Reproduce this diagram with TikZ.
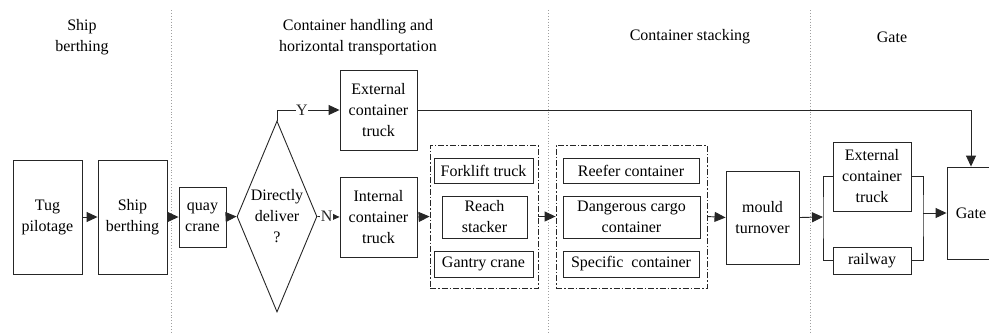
\documentclass[tikz,border=0pt]{standalone}
\usepackage{fontspec}
\setmainfont{Liberation Serif}
\usetikzlibrary{arrows.meta,shapes.geometric}

\begin{document}
\begin{tikzpicture}[x=1pt, y=-1pt,
	every node/.style={font=\fontsize{16}{21}\selectfont},
	stage/.style={draw=black!85, line width=0.9pt, align=center, inner sep=0pt},
	decision/.style={draw=black!85, line width=0.9pt, shape=diamond, aspect=0.42, align=center, inner sep=0pt},
	group/.style={draw=black!85, dash pattern=on 6pt off 2pt on 1.5pt off 2pt, line width=0.8pt, inner sep=0pt},
	flow/.style={-{Triangle[length=11pt, width=10pt]}, line width=0.9pt, color=black!85},
	link/.style={line width=0.9pt, color=black!85},
	divider/.style={dotted, line width=0.9pt, color=gray!75},
	tag/.style={fill=white, inner sep=0.5pt}]

	\useasboundingbox (0,0) rectangle (989,333);

	\draw[divider] (171,10) -- (171,333);
	\draw[divider] (548,10) -- (548,333);
	\draw[divider] (810,10) -- (810,333);

	\node[align=center](berthHead) at (82,37){Ship\\berthing};
	\node[align=center](handleHead) at (358,37){Container handling and\\horizontal transportation};
	\node(stackHead) at (690,37){Container stacking};
	\node(gateHead) at (892,37){Gate};

	\node[stage, minimum width=69pt, minimum height=114pt](tug) at (47.5,217){Tug\\pilotage};
	\node[stage, minimum width=69pt, minimum height=114pt](berth) at (132.5,217){Ship\\berthing};
	\node[stage, minimum width=47pt, minimum height=60pt](quay) at (202.5,217){quay\\crane};
	\node[decision, minimum width=80pt, minimum height=191pt](deliver) at (277,216.5){Directly\\deliver\\?};
	\node[stage, minimum width=77pt, minimum height=80pt](extTruck) at (378.5,110){External\\container\\truck};
	\node[stage, minimum width=77pt, minimum height=80pt](intTruck) at (378.5,217){Internal\\container\\truck};

	\node[group, minimum width=108pt, minimum height=143pt](handleBox) at (484,216.5){};
	\node[stage, minimum width=99pt, minimum height=25pt](forklift) at (483.5,170.5){Forklift truck};
	\node[stage, minimum width=85pt, minimum height=42pt](reach) at (484.5,217){Reach\\stacker};
	\node[stage, minimum width=99pt, minimum height=26pt](gantry) at (483.5,264){Gantry crane};

	\node[group, minimum width=151pt, minimum height=143pt](stackBox) at (631.5,216.5){};
	\node[stage, minimum width=136pt, minimum height=25pt](reefer) at (631,170.5){Reefer container};
	\node[stage, minimum width=137pt, minimum height=42pt](danger) at (631.5,217){Dangerous cargo\\container};
	\node[stage, minimum width=136pt, minimum height=26pt](specific) at (631,264){Specific\ \ container};

	\node[stage, minimum width=73pt, minimum height=93pt](mould) at (762.5,217.5){mould\\turnover};
	\node[stage, minimum width=78pt, minimum height=69pt](gateTruck) at (872,176.5){External\\container\\truck};
	\node[stage, minimum width=78pt, minimum height=27pt](railway) at (872,260.5){railway};
	\node[stage, minimum width=48pt, minimum height=92pt](gate) at (971,213){Gate};

	\coordinate (splitIn) at (823,217);
	\coordinate (splitOut) at (923,213);

	\draw[flow] (tug.east) -- (berth.west);
	\draw[flow] (berth.east) -- (quay.west);
	\draw[flow] (quay.east) -- (deliver.west);
	\draw[flow] (deliver.north) |- node[tag, pos=0.7]{Y} (extTruck.west);
	\draw[flow] (deliver.east) -- node[tag, pos=0.42]{N} (intTruck.west);
	\draw[flow] (intTruck.east) -- (handleBox.west);
	\draw[flow] (handleBox.east) -- (stackBox.west);
	\draw[flow] (stackBox.east) -- (mould.west);
	\draw[flow] (mould.east) -- (splitIn);
	\draw[link] (gateTruck.west) -| (splitIn) |- (railway.west);
	\draw[link] (gateTruck.east) -| (splitOut) |- (railway.east);
	\draw[flow] (splitOut) -- (gate.west);
	\draw[flow] (extTruck.east) -| (gate.north);

\end{tikzpicture}
\end{document}
